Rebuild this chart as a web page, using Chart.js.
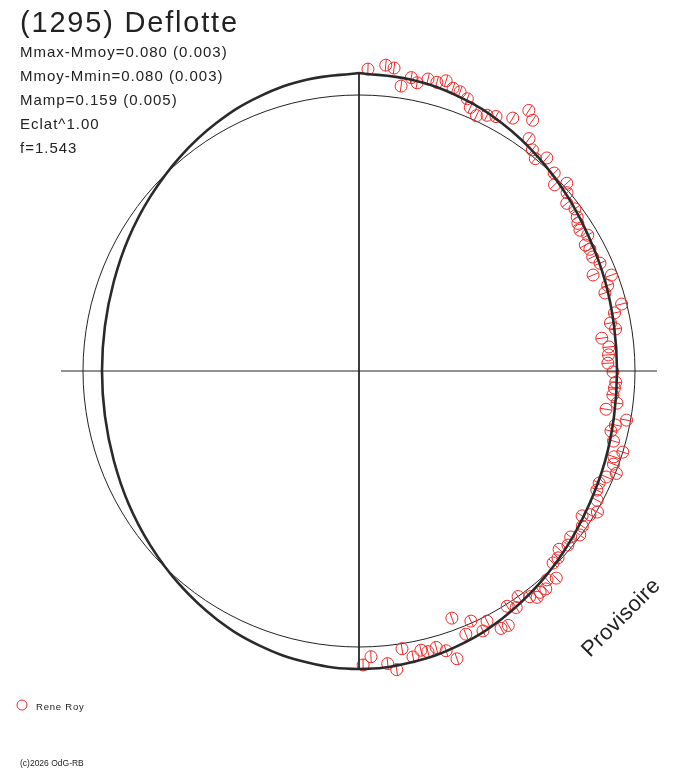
<!DOCTYPE html>
<html>
<head>
<meta charset="utf-8">
<title>(1295) Deflotte</title>
<script src="https://cdn.jsdelivr.net/npm/chart.js@4/dist/chart.umd.min.js"></script>
<style>
  body { margin: 0; background: #fff; }
  canvas { display: block; }
</style>
</head>
<body>
<canvas id="myChart" width="688" height="768"></canvas>
<script>
// observations (Rene Roy), phase angle in degrees (clockwise from top) and radius
const obsAngle = [0.2, 3.3, 1.7, 5.0, 6.6, 8.4, 10.1, 11.4, 13.3, 15.1, 16.7, 18.4, 19.9, 21.7, 22.9, 24.7, 26.6, 28.3, 31.3, 33.1,
  34.7, 36.2, 38.1, 39.7, 41.4, 44.6, 46.4, 47.9, 49.4, 51.1, 53.1, 54.8, 56.0, 57.5, 59.3, 60.9, 62.2, 64.0, 65.9, 67.7,
  69.2, 71.0, 72.4, 75.7, 77.2, 79.2, 80.7, 82.3, 84.5, 86.3, 88.2, 90.2, 92.5, 93.8, 95.4, 97.1, 98.8, 100.4, 101.9, 103.4,
  105.4, 107.1, 108.6, 110.1, 111.7, 113.2, 115.0, 116.6, 118.5, 120.6, 121.9, 123.0, 124.8, 126.6, 128.1, 129.8, 131.7, 133.2, 134.7, 136.4,
  138.0, 139.4, 140.7, 141.8, 142.9, 144.8, 146.4, 147.8, 159.4, 155.9, 152.9, 157.9, 154.5, 151.1, 149.6, 179.2, 177.6, 174.4, 172.8, 171.2,
  169.3, 167.5, 166.2, 164.4, 162.7, 161.2]
const obsR = [308, 314, 302, 307, 305, 288, 298, 294, 300, 299, 303, 298, 297, 293, 286, 281, 286, 289, 296, 311,
  305, 288, 281, 276, 284, 278, 270, 280, 274, 267, 270, 267, 264, 262, 266, 259, 261, 260, 264, 253,
  270, 263, 258, 271, 262, 256, 260, 245, 251, 250, 249, 254, 257, 256, 255, 260, 250, 272, 262, 259,
  264, 276, 269, 271, 277, 269, 265, 266, 271, 277, 272, 266, 272, 275, 269, 272, 268, 273, 273, 286,
  281, 287, 286, 288, 283, 276, 284, 278, 264, 274, 281, 284, 288, 294, 295, 294, 286, 294, 301, 281,
  291, 286, 289, 287, 293, 304]

// fitted curve, radius every 10 degrees
const curveAngle = [0, 10, 20, 30, 40, 50, 60, 70, 80, 90, 100, 110, 120, 130, 140, 150, 160, 170,
  180, 190, 200, 210, 220, 230, 240, 250, 260, 270, 280, 290, 300, 310, 320, 330, 340, 350]
const curveR = [298, 296, 292, 286, 279, 272, 266, 262, 259, 258, 259, 262, 266, 272, 279, 286, 292, 296,
  298, 296, 292, 286, 279, 272, 266, 261, 258, 257, 258, 261, 266, 272, 279, 286, 292, 296]

const refR = 276      // mean magnitude circle
const axisLen = 298   // axis lines reach the maximum radius

const titleText = '(1295) Deflotte'
const infoLines = ['Mmax-Mmoy=0.080 (0.003)', 'Mmoy-Mmin=0.080 (0.003)', 'Mamp=0.159 (0.005)', 'Eclat^1.00', 'f=1.543']
const observer = 'Rene Roy'
const copyright = '(c)2026 OdG-RB'
const stamp = 'Provisoire'

const red = 'rgb(240,40,40)'
const ink = '#222'

function toXY(a, r) {
  const t = a * Math.PI / 180
  return { x: r * Math.sin(t), y: r * Math.cos(t) }
}

const obsPoints = obsAngle.map((a, i) => toXY(a, obsR[i]))
const curvePoints = curveAngle.map((a, i) => toXY(a, curveR[i]))
curvePoints.push(curvePoints[0])

// reference circle + texts
const decor = {
  id: 'decor',
  beforeDatasetsDraw(chart) {
    const ctx = chart.ctx
    const xs = chart.scales.x, ys = chart.scales.y
    const cx = xs.getPixelForValue(0), cy = ys.getPixelForValue(0)
    const rad = xs.getPixelForValue(refR) - cx
    ctx.save()
    ctx.strokeStyle = ink
    ctx.lineWidth = 1
    ctx.beginPath()
    ctx.arc(cx, cy, rad, 0, Math.PI * 2)
    ctx.stroke()
    ctx.restore()
  },
  afterDraw(chart) {
    const ctx = chart.ctx
    ctx.save()
    ctx.fillStyle = ink
    ctx.textBaseline = 'alphabetic'
    ctx.letterSpacing = '1.8px'
    ctx.font = '29px "Liberation Sans", Arial, sans-serif'
    ctx.fillText(titleText, 20, 32)
    ctx.letterSpacing = '1px'
    ctx.font = '15px "Liberation Sans", Arial, sans-serif'
    infoLines.forEach((t, i) => ctx.fillText(t, 20, 57 + i * 24))

    // legend
    ctx.strokeStyle = red
    ctx.lineWidth = 1
    ctx.beginPath()
    ctx.arc(22, 705, 5, 0, Math.PI * 2)
    ctx.stroke()
    ctx.letterSpacing = '0.8px'
    ctx.font = '9.5px "Liberation Sans", Arial, sans-serif'
    ctx.fillText(observer, 36, 710)

    ctx.letterSpacing = '0px'
    ctx.font = '8.5px "Liberation Sans", Arial, sans-serif'
    ctx.fillText(copyright, 20, 766)

    // stamp
    ctx.translate(590, 658)
    ctx.rotate(-Math.PI / 4)
    ctx.letterSpacing = '0.3px'
    ctx.font = '22px "Liberation Sans", Arial, sans-serif'
    ctx.fillText(stamp, 0, 0)
    ctx.restore()
  }
}

const ctx = document.getElementById('myChart').getContext('2d')
const chart = new Chart(ctx, {
  type: 'scatter',
  data: {
    datasets: [
      {
        // horizontal axis
        data: [{ x: -axisLen, y: 0 }, { x: axisLen, y: 0 }],
        showLine: true, borderColor: ink, borderWidth: 1, pointRadius: 0
      },
      {
        // vertical axis
        data: [{ x: 0, y: axisLen }, { x: 0, y: -axisLen }],
        showLine: true, borderColor: ink, borderWidth: 1, pointRadius: 0
      },
      {
        // fitted curve
        data: curvePoints,
        showLine: true, tension: 0.4, borderColor: '#2a2a2a', borderWidth: 2.6, pointRadius: 0
      },
      {
        // observation circles
        data: obsPoints,
        pointStyle: 'circle', pointRadius: 6, borderColor: red, borderWidth: 1,
        backgroundColor: 'rgba(0,0,0,0)'
      },
      {
        // radial tick inside each circle
        data: obsPoints,
        pointStyle: 'line', pointRadius: 6, borderColor: red, borderWidth: 1,
        rotation: (c) => obsAngle[c.dataIndex] - 90
      }
    ]
  },
  options: {
    responsive: false,
    devicePixelRatio: 1,
    animation: false,
    clip: false,
    elements: { line: { capBezierPoints: false } },
    layout: { padding: { left: 59, right: 29, top: 71, bottom: 97 } },
    scales: {
      x: { type: 'linear', min: -300, max: 300, display: false },
      y: { type: 'linear', min: -300, max: 300, display: false }
    },
    plugins: { legend: { display: false }, tooltip: { enabled: false } }
  },
  plugins: [decor]
})
</script>
</body>
</html>
